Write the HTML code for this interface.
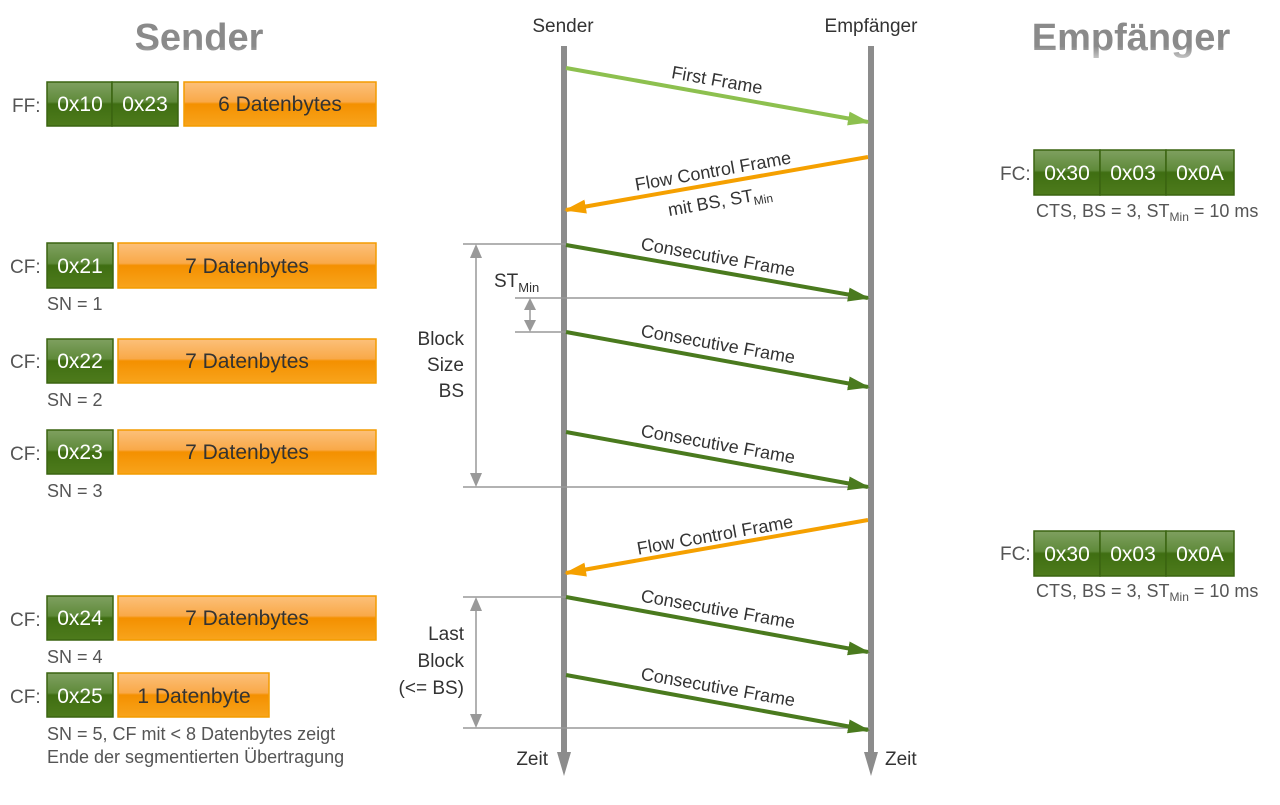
<!DOCTYPE html>
<html><head><meta charset="utf-8"><style>
html,body{margin:0;padding:0;background:#fff}
svg{display:block}
text{font-family:"Liberation Sans",sans-serif}
</style></head><body>
<svg width="1280" height="805" viewBox="0 0 1280 805" xmlns="http://www.w3.org/2000/svg">
<defs>
<linearGradient id="g" x1="0" y1="0" x2="0" y2="1">
<stop offset="0" stop-color="#7fa060"/><stop offset="0.45" stop-color="#5f8a3a"/><stop offset="0.5" stop-color="#3f6e12"/><stop offset="1" stop-color="#4e7b1c"/></linearGradient>
<linearGradient id="o" x1="0" y1="0" x2="0" y2="1">
<stop offset="0" stop-color="#fcc07a"/><stop offset="0.45" stop-color="#f9a948"/><stop offset="0.5" stop-color="#f49000"/><stop offset="1" stop-color="#f8a41c"/></linearGradient>
<linearGradient id="tg" x1="0" y1="0" x2="0" y2="1">
<stop offset="0" stop-color="#8a8a8a"/><stop offset="0.7" stop-color="#8a8a8a"/><stop offset="1" stop-color="#c8c8c8"/></linearGradient>
<marker id="al" markerWidth="22" markerHeight="14" refX="20" refY="7" orient="auto" markerUnits="userSpaceOnUse"><path d="M0,0 L22,7 L0,14z" fill="#8dc04f"/></marker>
<marker id="ad" markerWidth="22" markerHeight="14" refX="20" refY="7" orient="auto" markerUnits="userSpaceOnUse"><path d="M0,0 L22,7 L0,14z" fill="#4a7a1e"/></marker>
<marker id="ao" markerWidth="22" markerHeight="14" refX="20" refY="7" orient="auto" markerUnits="userSpaceOnUse"><path d="M0,0 L22,7 L0,14z" fill="#f5a000"/></marker>
</defs>

<text x="199" y="50" font-size="38" font-weight="bold" fill="url(#tg)" text-anchor="middle">Sender</text>
<text x="1131" y="50" font-size="38" font-weight="bold" fill="url(#tg)" text-anchor="middle">Empfänger</text>
<text x="563" y="32" font-size="19" fill="#333" text-anchor="middle">Sender</text>
<text x="871" y="32" font-size="19" fill="#333" text-anchor="middle">Empfänger</text>

<g fill="#8c8c8c">
<rect x="561" y="46" width="6" height="710"/><path d="M557,752 L571,752 L564,776z"/>
<rect x="868" y="46" width="6" height="710"/><path d="M864,752 L878,752 L871,776z"/>
</g>
<text x="548" y="765" font-size="19" fill="#333" text-anchor="end">Zeit</text>
<text x="885" y="765" font-size="19" fill="#333">Zeit</text>

<g stroke="#999" stroke-width="1.5">
<line x1="463" y1="244" x2="566" y2="244"/>
<line x1="515" y1="298" x2="870" y2="298"/>
<line x1="515" y1="332" x2="566" y2="332"/>
<line x1="463" y1="487" x2="870" y2="487"/>
<line x1="463" y1="597" x2="566" y2="597"/>
<line x1="463" y1="728" x2="870" y2="728"/>
<line x1="476" y1="254" x2="476" y2="477"/>
<line x1="476" y1="607" x2="476" y2="718"/>
<line x1="530" y1="306" x2="530" y2="324"/>
</g>
<g fill="#999">
<path d="M470,258 L482,258 L476,244z"/><path d="M470,473 L482,473 L476,487z"/>
<path d="M470,611 L482,611 L476,597z"/><path d="M470,714 L482,714 L476,728z"/>
<path d="M524,310 L536,310 L530,298z"/><path d="M524,320 L536,320 L530,332z"/>
</g>
<text x="494" y="287" font-size="19" fill="#333">ST<tspan font-size="13" dy="5">Min</tspan></text>
<g font-size="19" fill="#333" text-anchor="end">
<text x="464" y="345">Block</text><text x="464" y="371">Size</text><text x="464" y="397">BS</text>
<text x="464" y="640">Last</text><text x="464" y="667">Block</text><text x="464" y="694">(&lt;= BS)</text>
</g>

<line x1="566" y1="68" x2="868" y2="122" stroke="#8dc04f" stroke-width="4" marker-end="url(#al)"/>
<line x1="868" y1="157" x2="566" y2="210" stroke="#f5a000" stroke-width="4" marker-end="url(#ao)"/>
<line x1="868" y1="520" x2="566" y2="573" stroke="#f5a000" stroke-width="4" marker-end="url(#ao)"/>
<g stroke="#4a7a1e" stroke-width="4" marker-end="url(#ad)">
<line x1="566" y1="245" x2="868" y2="298"/>
<line x1="566" y1="332" x2="868" y2="387"/>
<line x1="566" y1="432" x2="868" y2="487"/>
<line x1="566" y1="597" x2="868" y2="652"/>
<line x1="566" y1="675" x2="868" y2="730"/>
</g>
<g font-size="18" fill="#333" text-anchor="middle">
<text transform="translate(716,86) rotate(10)">First Frame</text>
<text transform="translate(714,177) rotate(-10)">Flow Control Frame</text>
<text transform="translate(721,207) rotate(-10)">mit BS, ST<tspan font-size="12" dy="4">Min</tspan></text>
<text transform="translate(716,541) rotate(-10)">Flow Control Frame</text>
<text transform="translate(717,263) rotate(10)">Consecutive Frame</text>
<text transform="translate(717,350) rotate(10)">Consecutive Frame</text>
<text transform="translate(717,450) rotate(10)">Consecutive Frame</text>
<text transform="translate(717,615) rotate(10)">Consecutive Frame</text>
<text transform="translate(717,693) rotate(10)">Consecutive Frame</text>
</g>

<g font-size="19" fill="#555">
<text x="12" y="112">FF:</text>
<text x="10" y="273">CF:</text><text x="10" y="368">CF:</text><text x="10" y="460">CF:</text>
<text x="10" y="626">CF:</text><text x="10" y="703">CF:</text>
<text x="1000" y="180">FC:</text><text x="1000" y="560">FC:</text>
</g>
<g stroke="#3a6410" stroke-width="1.5" fill="url(#g)">
<rect x="47" y="82" width="65" height="44"/><rect x="112" y="82" width="66" height="44"/>
<rect x="47" y="243" width="66" height="45"/><rect x="47" y="339" width="66" height="44"/>
<rect x="47" y="430" width="66" height="44"/><rect x="47" y="596" width="66" height="44"/>
<rect x="47" y="673" width="66" height="44"/>
<rect x="1034" y="150" width="66" height="45"/><rect x="1100" y="150" width="66" height="45"/><rect x="1166" y="150" width="68" height="45"/>
<rect x="1034" y="531" width="66" height="45"/><rect x="1100" y="531" width="66" height="45"/><rect x="1166" y="531" width="68" height="45"/>
</g>
<g stroke="#f39c00" stroke-width="1.5" fill="url(#o)">
<rect x="184" y="82" width="192" height="44"/>
<rect x="118" y="243" width="258" height="45"/><rect x="118" y="339" width="258" height="44"/>
<rect x="118" y="430" width="258" height="44"/><rect x="118" y="596" width="258" height="44"/>
<rect x="118" y="673" width="151" height="44"/>
</g>
<g font-size="21" fill="#fff" text-anchor="middle">
<text x="80" y="111">0x10</text><text x="145" y="111">0x23</text>
<text x="80" y="273">0x21</text><text x="80" y="368">0x22</text><text x="80" y="459">0x23</text>
<text x="80" y="625">0x24</text><text x="80" y="703">0x25</text>
<text x="1067" y="180">0x30</text><text x="1133" y="180">0x03</text><text x="1200" y="180">0x0A</text>
<text x="1067" y="561">0x30</text><text x="1133" y="561">0x03</text><text x="1200" y="561">0x0A</text>
</g>
<g font-size="21" fill="#333" text-anchor="middle">
<text x="280" y="111">6 Datenbytes</text>
<text x="247" y="273">7 Datenbytes</text><text x="247" y="368">7 Datenbytes</text>
<text x="247" y="459">7 Datenbytes</text><text x="247" y="625">7 Datenbytes</text>
<text x="194" y="703">1 Datenbyte</text>
</g>
<g font-size="18" fill="#555">
<text x="47" y="310">SN = 1</text><text x="47" y="406">SN = 2</text><text x="47" y="497">SN = 3</text>
<text x="47" y="663">SN = 4</text>
<text x="47" y="740">SN = 5, CF mit &lt; 8 Datenbytes zeigt</text>
<text x="47" y="763">Ende der segmentierten Übertragung</text>
<text x="1036" y="217">CTS, BS = 3, ST<tspan font-size="12" dy="4">Min</tspan><tspan dy="-4"> = 10 ms</tspan></text>
<text x="1036" y="597">CTS, BS = 3, ST<tspan font-size="12" dy="4">Min</tspan><tspan dy="-4"> = 10 ms</tspan></text>
</g>
</svg>
</body></html>
